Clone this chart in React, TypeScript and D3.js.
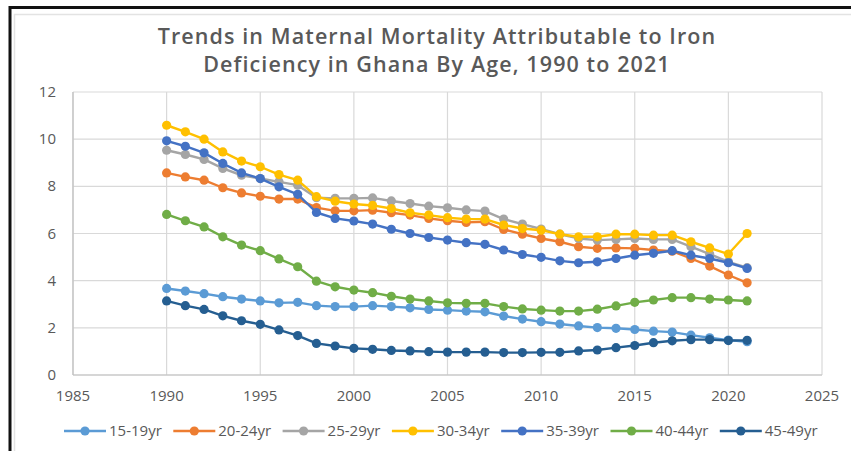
import React from "react";
import * as d3 from "d3";

const years = d3.range(1990, 2022);
const seriesNames = ["15-19yr", "20-24yr", "25-29yr", "30-34yr", "35-39yr", "40-44yr", "45-49yr"];
const colors = ["#5B9BD5", "#ED7D31", "#A5A5A5", "#FFC000", "#4472C4", "#70AD47", "#255E91"];

const s15_19 = [3.67, 3.56, 3.45, 3.32, 3.22, 3.14, 3.06, 3.08, 2.94, 2.9, 2.9, 2.94, 2.9, 2.85, 2.78, 2.75, 2.71, 2.68, 2.5, 2.37, 2.26, 2.16, 2.08, 2.01, 1.98, 1.93, 1.86, 1.82, 1.69, 1.58, 1.48, 1.41];
const s20_24 = [8.57, 8.4, 8.26, 7.94, 7.72, 7.58, 7.46, 7.46, 7.1, 6.96, 6.96, 6.99, 6.88, 6.78, 6.64, 6.54, 6.47, 6.5, 6.17, 5.97, 5.79, 5.65, 5.44, 5.37, 5.39, 5.37, 5.3, 5.25, 4.94, 4.62, 4.24, 3.91];
const s25_29 = [9.53, 9.35, 9.14, 8.76, 8.47, 8.33, 8.19, 8.05, 7.52, 7.49, 7.49, 7.51, 7.38, 7.27, 7.16, 7.09, 7.0, 6.95, 6.61, 6.4, 6.19, 5.97, 5.79, 5.72, 5.75, 5.79, 5.75, 5.75, 5.44, 5.13, 4.8, 4.55];
const s30_34 = [10.59, 10.31, 10.0, 9.46, 9.07, 8.83, 8.5, 8.26, 7.56, 7.37, 7.25, 7.19, 7.06, 6.88, 6.78, 6.67, 6.61, 6.61, 6.36, 6.21, 6.14, 5.97, 5.86, 5.86, 5.97, 5.97, 5.93, 5.93, 5.65, 5.39, 5.13, 6.0];
const s35_39 = [9.93, 9.7, 9.42, 8.97, 8.57, 8.33, 7.98, 7.66, 6.89, 6.64, 6.53, 6.4, 6.18, 6.0, 5.83, 5.72, 5.61, 5.54, 5.3, 5.11, 4.99, 4.84, 4.76, 4.8, 4.94, 5.08, 5.16, 5.27, 5.08, 4.94, 4.76, 4.52];
const s40_44 = [6.81, 6.54, 6.28, 5.86, 5.51, 5.27, 4.92, 4.59, 3.98, 3.74, 3.6, 3.49, 3.34, 3.22, 3.14, 3.06, 3.04, 3.04, 2.9, 2.8, 2.75, 2.71, 2.71, 2.79, 2.93, 3.08, 3.18, 3.28, 3.28, 3.22, 3.18, 3.14];
const s45_49 = [3.14, 2.94, 2.78, 2.51, 2.3, 2.15, 1.91, 1.67, 1.34, 1.23, 1.13, 1.09, 1.04, 1.02, 0.99, 0.97, 0.97, 0.97, 0.95, 0.95, 0.96, 0.96, 1.02, 1.06, 1.16, 1.25, 1.37, 1.45, 1.5, 1.5, 1.46, 1.47];

const seriesValues = [s15_19, s20_24, s25_29, s30_34, s35_39, s40_44, s45_49];
const xTicks = [1985, 1990, 1995, 2000, 2005, 2010, 2015, 2020, 2025];
const yTicks = [0, 2, 4, 6, 8, 10, 12];
const titleLines = ["Trends in Maternal Mortality Attributable to Iron", "Deficiency in Ghana By Age, 1990 to 2021"];

const W = 851;
const H = 451;
const FONT = "'Open Sans', 'Liberation Sans', sans-serif";

export default function App() {
  const x = d3.scaleLinear().domain([1985, 2025]).range([73, 822]);
  const y = d3.scaleLinear().domain([0, 12]).range([375, 92]);
  const line = d3
    .line<number>()
    .x((_, i) => x(years[i]))
    .y((d) => y(d));

  const legendStart = 64;
  const legendStep = 109.3;

  return (
    <svg width={W} height={H} style={{ position: "absolute", left: 0, top: 0, background: "#fff" }}>
      <rect x={0} y={0} width={W} height={H} fill="#fff" />
      {/* outer black frame */}
      <rect x={10} y={7.5} width={W + 20} height={H + 20} fill="none" stroke="#111" strokeWidth={3} />
      {/* inner chart border */}
      <rect x={14.5} y={14.5} width={W + 20} height={H + 20} fill="none" stroke="#e3e3e3" strokeWidth={1.5} />

      {titleLines.map((t, i) => (
        <text
          key={i}
          x={437}
          y={44 + i * 28}
          textAnchor="middle"
          fontFamily={FONT}
          fontWeight={600}
          fontSize={21.5}
          letterSpacing={1.1}
          fill="#595959"
        >
          {t}
        </text>
      ))}

      {/* gridlines */}
      {yTicks.map((t) => (
        <line key={"hy" + t} x1={x(1985)} x2={x(2025)} y1={y(t)} y2={y(t)} stroke="#d9d9d9" strokeWidth={1.2} />
      ))}
      {xTicks.map((t) => (
        <line key={"vx" + t} x1={x(t)} x2={x(t)} y1={y(0)} y2={y(12)} stroke="#d9d9d9" strokeWidth={1.2} />
      ))}
      <line x1={x(1985)} x2={x(2025)} y1={y(0)} y2={y(0)} stroke="#bfbfbf" strokeWidth={1.2} />
      <line x1={x(1985)} x2={x(1985)} y1={y(0)} y2={y(12)} stroke="#bfbfbf" strokeWidth={1.2} />

      {/* tick labels */}
      {yTicks.map((t) => (
        <text key={"yl" + t} x={56} y={y(t) + 5} textAnchor="end" fontFamily={FONT} fontSize={15} fill="#595959">
          {t}
        </text>
      ))}
      {xTicks.map((t) => (
        <text key={"xl" + t} x={x(t)} y={401} textAnchor="middle" fontFamily={FONT} fontSize={15} fill="#595959">
          {t}
        </text>
      ))}

      {/* series */}
      {seriesValues.map((vals, si) => (
        <g key={seriesNames[si]}>
          <path d={line(vals) || ""} fill="none" stroke={colors[si]} strokeWidth={2.4} strokeLinejoin="round" />
          {vals.map((v, i) => (
            <circle key={i} cx={x(years[i])} cy={y(v)} r={4.6} fill={colors[si]} />
          ))}
        </g>
      ))}

      {/* legend */}
      {seriesNames.map((n, i) => {
        const lx = legendStart + i * legendStep;
        const ly = 431;
        return (
          <g key={"lg" + n}>
            <line x1={lx} x2={lx + 42} y1={ly} y2={ly} stroke={colors[i]} strokeWidth={2.4} />
            <circle cx={lx + 21} cy={ly} r={4.6} fill={colors[i]} />
            <text x={lx + 45} y={ly + 5} fontFamily={FONT} fontSize={15} fill="#595959">
              {n}
            </text>
          </g>
        );
      })}
    </svg>
  );
}
